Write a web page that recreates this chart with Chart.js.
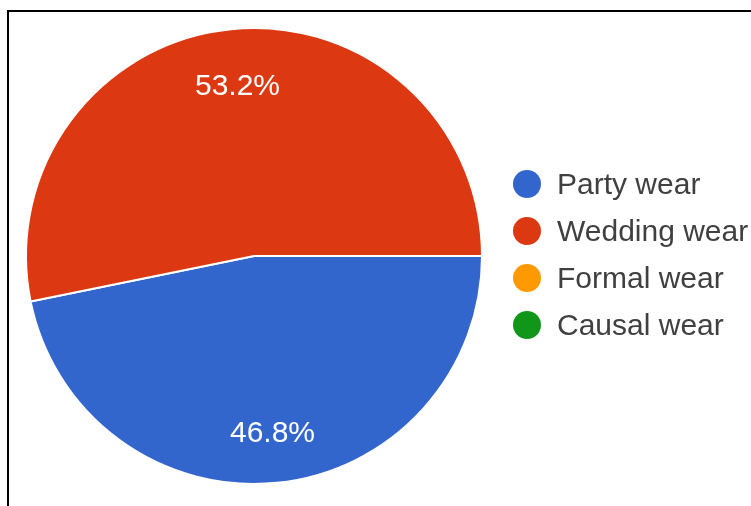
<!DOCTYPE html>
<html lang="en">
<head>
    <meta charset="UTF-8">
    <title>Wear Preference</title>
    <script src="https://cdn.jsdelivr.net/npm/chart.js"></script>
    <style>
        body {
            margin: 0;
            background-color: white;
            overflow: hidden;
        }

        #wrap {
            position: relative;
            width: 751px;
            height: 506px;
        }

        /* frame lines along the top and left edges */
        #frame {
            position: absolute;
            left: 7px;
            top: 10px;
            width: 742px;
            height: 500px;
            border-top: 2px solid black;
            border-left: 2px solid black;
            pointer-events: none;
        }
    </style>
</head>
<body>
    <div id="wrap">
        <canvas id="pieChart" width="751" height="506"></canvas>
        <div id="frame"></div>
    </div>

    <script>
        const labels = ["Party wear", "Wedding wear", "Formal wear", "Causal wear"];
        const shares = [46.8, 53.2, 0, 0];
        const colors = ["#3366cc", "#dc3912", "#ff9900", "#109618"];

        const fontFamily = "'Liberation Sans', Arial, sans-serif";

        // percentage text inside each non-empty slice
        const sliceLabels = {
            id: 'sliceLabels',
            afterDatasetsDraw(chart) {
                const ctx = chart.ctx;
                const meta = chart.getDatasetMeta(0);
                ctx.save();
                ctx.font = "30px " + fontFamily;
                ctx.fillStyle = "white";
                ctx.textAlign = "center";
                ctx.textBaseline = "middle";
                meta.data.forEach((arc, i) => {
                    if (!shares[i]) return;
                    const mid = (arc.startAngle + arc.endAngle) / 2;
                    const r = arc.outerRadius * 0.765;
                    const x = arc.x + Math.cos(mid) * r;
                    const y = arc.y + Math.sin(mid) * r;
                    ctx.fillText(shares[i].toFixed(1) + "%", x + 1, y + 4);
                });
                ctx.restore();
            }
        };

        // legend column on the right, circle markers
        const sideLegend = {
            id: 'sideLegend',
            afterDraw(chart) {
                const ctx = chart.ctx;
                ctx.save();
                ctx.font = "30px " + fontFamily;
                ctx.textBaseline = "middle";
                labels.forEach((name, i) => {
                    const y = 184 + i * 47;
                    ctx.beginPath();
                    ctx.arc(527, y, 14, 0, Math.PI * 2);
                    ctx.fillStyle = colors[i];
                    ctx.fill();
                    ctx.fillStyle = "#404040";
                    ctx.fillText(name, 557, y + 2);
                });
                ctx.restore();
            }
        };

        const ctx = document.getElementById('pieChart').getContext('2d');
        new Chart(ctx, {
            type: 'pie',
            data: {
                labels: labels,
                datasets: [{
                    data: shares,
                    backgroundColor: colors,
                    borderColor: "white",
                    borderWidth: 2
                }]
            },
            options: {
                responsive: false,
                animation: false,
                rotation: 90,
                layout: {
                    padding: { left: 24, right: 267, top: 27, bottom: 21 }
                },
                plugins: {
                    legend: { display: false },
                    tooltip: { enabled: false }
                }
            },
            plugins: [sliceLabels, sideLegend]
        });
    </script>
</body>
</html>
